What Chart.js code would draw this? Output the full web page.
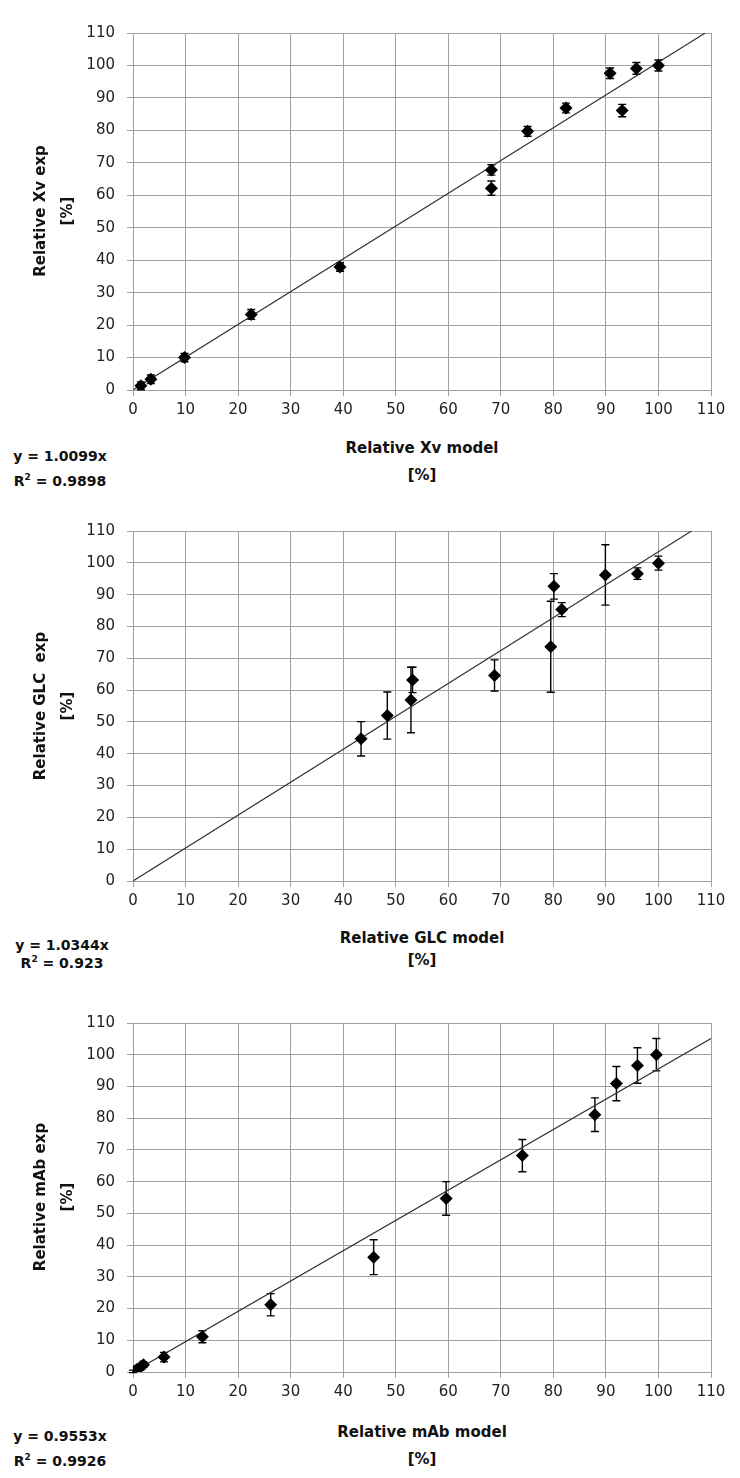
<!DOCTYPE html>
<html>
<head>
<meta charset="utf-8">
<script src="https://cdn.jsdelivr.net/npm/chart.js@4/dist/chart.umd.min.js"></script>
<style>
  html,body{margin:0;padding:0;background:#fff;}
  #page{position:relative;width:740px;height:1478px;overflow:hidden;background:#fff;}
  canvas{position:absolute;left:0;}
  .t{position:absolute;font-family:"DejaVu Sans",sans-serif;font-weight:bold;font-size:15px;color:#111;white-space:nowrap;text-align:center;}
  .eq{position:absolute;font-family:"DejaVu Sans",sans-serif;font-weight:bold;font-size:14px;color:#111;white-space:nowrap;text-align:center;}
  .yt{position:absolute;font-family:"DejaVu Sans",sans-serif;font-weight:bold;font-size:15px;color:#111;white-space:nowrap;text-align:center;transform:translate(-50%,-50%) rotate(-90deg);}
  sup{font-size:9px;line-height:0;}
</style>
</head>
<body>
<div id="page">
  <canvas id="c1"></canvas>
  <canvas id="c2"></canvas>
  <canvas id="c3"></canvas>

  <div class="yt" style="left:40px;top:211px;">Relative Xv exp</div>
  <div class="yt" style="left:67px;top:211px;">[%]</div>
  <div class="t" style="left:272px;width:300px;top:435px;line-height:27px;">Relative Xv model<br>[%]</div>
  <div class="eq" style="left:0px;width:120px;top:444px;line-height:25px;">y = 1.0099x<br>R<sup>2</sup> = 0.9898</div>

  <div class="yt" style="left:40px;top:706px;">Relative GLC&nbsp; exp</div>
  <div class="yt" style="left:67px;top:706px;">[%]</div>
  <div class="t" style="left:272px;width:300px;top:927px;line-height:22px;">Relative GLC model<br>[%]</div>
  <div class="eq" style="left:2px;width:120px;top:936px;line-height:18px;">y = 1.0344x<br>R<sup>2</sup> = 0.923</div>

  <div class="yt" style="left:40px;top:1197px;">Relative mAb exp</div>
  <div class="yt" style="left:67px;top:1197px;">[%]</div>
  <div class="t" style="left:272px;width:300px;top:1419px;line-height:27px;">Relative mAb model<br>[%]</div>
  <div class="eq" style="left:0px;width:120px;top:1424px;line-height:25px;">y = 0.9553x<br>R<sup>2</sup> = 0.9926</div>
</div>
<script>
// ---- tick labels (both axes, all three panels) ----
const axisTicks = [0, 10, 20, 30, 40, 50, 60, 70, 80, 90, 100, 110];

// ---- Panel 1: Xv ----
const xvModel = [1.5, 3.4, 9.8, 22.5, 39.4, 68.2, 68.2, 75.1, 82.4, 90.8, 93.1, 95.8, 100];
const xvExp   = [1.3, 3.3, 10.0, 23.3, 37.9, 67.8, 62.2, 79.7, 86.9, 97.6, 86.1, 99.1, 100];
const xvErr   = [1.2, 1.3, 1.3, 1.5, 1.3, 1.6, 2.2, 1.5, 1.5, 1.6, 1.9, 1.8, 1.7];
const xvTrendX = [0, 108.9];
const xvTrendY = [0, 110];

// ---- Panel 2: GLC ----
const glcModel = [43.4, 48.4, 53.2, 52.9, 68.8, 79.5, 80.1, 81.6, 89.9, 96.0, 100];
const glcExp   = [44.7, 52.0, 63.2, 56.9, 64.6, 73.6, 92.6, 85.3, 96.2, 96.6, 99.9];
const glcErr   = [5.4, 7.4, 4.0, 10.3, 4.9, 14.3, 4.0, 2.2, 9.5, 1.8, 2.2];
const glcTrendX = [0, 106.3];
const glcTrendY = [0, 110];

// ---- Panel 3: mAb ----
const mabModel = [0.0, 0.7, 1.5, 2.0, 5.9, 13.2, 26.2, 45.8, 59.6, 74.1, 87.9, 92.0, 96.0, 99.6];
const mabExp   = [0.2, 0.8, 1.7, 2.3, 4.7, 11.1, 21.2, 36.2, 54.7, 68.2, 81.1, 90.9, 96.6, 100.0];
const mabErr   = [0.4, 0.5, 0.6, 0.8, 1.5, 1.9, 3.5, 5.5, 5.3, 5.1, 5.3, 5.4, 5.6, 5.1];
const mabTrendX = [0, 110];
const mabTrendY = [0, 105.1];

const GRID = '#a0a0a0';
const TICKFONT = {family: '"DejaVu Sans", sans-serif', size: 15};

const errorBars = {
  id: 'errorBars',
  beforeDatasetsDraw(chart) {
    const ds = chart.data.datasets[0];
    const errs = ds.errors;
    const xs = chart.scales.x, ys = chart.scales.y;
    const ctx = chart.ctx;
    ctx.save();
    ctx.strokeStyle = '#000';
    ctx.lineWidth = 1.4;
    ds.data.forEach((p, i) => {
      const e = errs[i];
      const px = xs.getPixelForValue(p.x);
      const top = ys.getPixelForValue(p.y + e);
      const bot = ys.getPixelForValue(p.y - e);
      ctx.beginPath();
      ctx.moveTo(px, top); ctx.lineTo(px, bot);
      ctx.moveTo(px - 4, top); ctx.lineTo(px + 4, top);
      ctx.moveTo(px - 4, bot); ctx.lineTo(px + 4, bot);
      ctx.stroke();
    });
    ctx.restore();
  }
};

function scaleOpts(isX, fitSize) {
  return {
    type: 'linear',
    min: 0, max: 110,
    afterBuildTicks(s) { s.ticks = axisTicks.map(v => ({value: v})); },
    afterFit(s) {
      if (isX) { s.height = fitSize; s.paddingLeft = 0; s.paddingRight = 0; }
      else { s.width = fitSize; s.paddingTop = 0; s.paddingBottom = 0; }
    },
    grid: { color: GRID, lineWidth: 1, tickLength: 6, drawTicks: true, tickColor: GRID },
    border: { display: true, color: GRID, width: 1 },
    ticks: { font: TICKFONT, color: '#222', padding: isX ? 5 : 12, maxRotation: 0, autoSkip: false,
             callback: v => String(v) },
    title: { display: false }
  };
}

function makeChart(id, top, plotTop, plotBottom, model, exp, err, tx, ty) {
  const cv = document.getElementById(id);
  const padTop = plotTop - top;
  const xH = 40;
  const h = (plotBottom - top) + xH;
  cv.width = 740; cv.height = h;
  cv.style.top = top + 'px';
  cv.style.width = '740px'; cv.style.height = h + 'px';
  return new Chart(cv, {
    type: 'scatter',
    data: {
      datasets: [
        {
          data: model.map((x, i) => ({x: x, y: exp[i]})),
          errors: err,
          pointStyle: 'rectRot',
          pointRadius: 6.5,
          pointBackgroundColor: '#000',
          pointBorderColor: '#000',
          pointBorderWidth: 0,
          showLine: false,
          order: 1
        },
        {
          data: tx.map((x, i) => ({x: x, y: ty[i]})),
          showLine: true,
          borderColor: '#333',
          borderWidth: 1.2,
          pointRadius: 0,
          fill: false,
          order: 2
        }
      ]
    },
    options: {
      responsive: false,
      animation: false,
      devicePixelRatio: 1,
      layout: { padding: { left: 0, right: 29, top: padTop, bottom: 0 } },
      plugins: { legend: { display: false }, tooltip: { enabled: false } },
      scales: { x: scaleOpts(true, xH), y: scaleOpts(false, 133) }
    },
    plugins: [errorBars]
  });
}

makeChart('c1', 18, 33, 390, xvModel, xvExp, xvErr, xvTrendX, xvTrendY);
makeChart('c2', 516, 531, 881, glcModel, glcExp, glcErr, glcTrendX, glcTrendY);
makeChart('c3', 1008, 1023, 1372, mabModel, mabExp, mabErr, mabTrendX, mabTrendY);
</script>
</body>
</html>
